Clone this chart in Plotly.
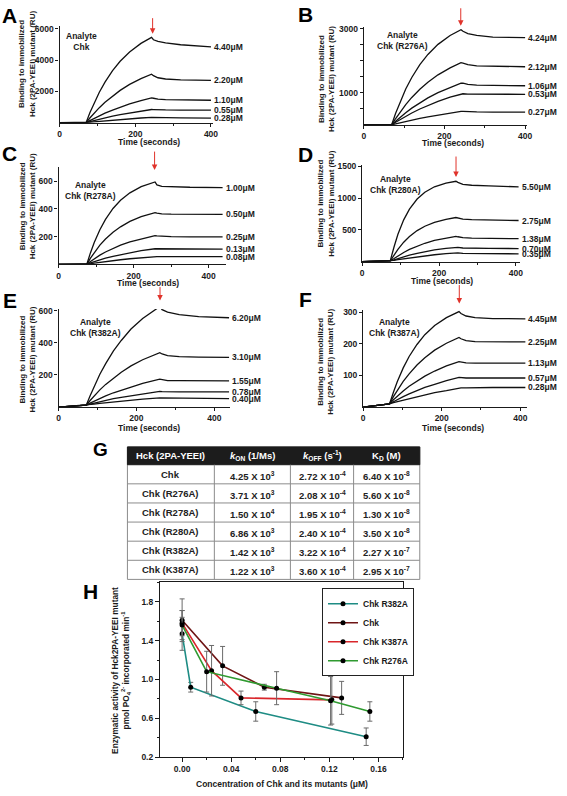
import plotly.graph_objects as go

W, H = 567, 796
FONT = "Liberation Sans, Arial, Helvetica, sans-serif"
INK = "#1a1a1a"

# ---------------- SPR sensorgram data (panels A-F) ----------------
T_A = [0, 70, 80, 90, 105, 120, 140, 160, 185, 215, 243, 248, 260, 280, 320, 400]
A_LABELS = ["4.40μM", "2.20μM", "1.10μM", "0.55μM", "0.28μM"]
A_440 = [0, 0, 627, 1200, 1945, 2590, 3325, 3925, 4520, 5065, 5450, 5300, 5200, 5100, 4980, 4840]
A_220 = [0, 0, 298, 577, 958, 1302, 1708, 2062, 2443, 2818, 3100, 3000, 2870, 2790, 2740, 2700]
A_110 = [0, 0, 133, 259, 439, 604, 806, 988, 1193, 1408, 1580, 1560, 1500, 1470, 1450, 1430]
A_055 = [0, 0, 66, 129, 219, 305, 410, 508, 619, 739, 840, 835, 820, 810, 805, 800]
A_028 = [0, 0, 25, 49, 84, 117, 159, 199, 245, 296, 340, 335, 320, 310, 300, 290]

T_B = [0, 69, 79, 89, 104, 119, 139, 159, 184, 214, 241, 246, 258, 280, 320, 400]
B_LABELS = ["4.24μM", "2.12μM", "1.06μM", "0.53μM", "0.27μM"]
B_424 = [0, 0, 365, 689, 1120, 1479, 1880, 2198, 2513, 2789, 2970, 2920, 2850, 2790, 2740, 2720]
B_212 = [0, 0, 200, 384, 634, 857, 1114, 1333, 1562, 1781, 1940, 1930, 1880, 1840, 1825, 1815]
B_106 = [0, 0, 117, 228, 382, 523, 693, 842, 1005, 1173, 1300, 1300, 1265, 1240, 1230, 1222]
B_053 = [0, 0, 82, 160, 271, 372, 497, 609, 736, 869, 975, 972, 962, 958, 956, 955]
B_027 = [0, 0, 33, 65, 110, 152, 205, 254, 310, 370, 420, 420, 412, 405, 402, 400]

T_C = [0, 75, 85, 95, 110, 125, 145, 165, 190, 220, 257, 262, 275, 300, 350, 437]
C_LABELS = ["1.00μM", "0.50μM", "0.25μM", "0.13μM", "0.08μM"]
C_100 = [0, 0, 84, 157, 249, 324, 402, 461, 515, 559, 593, 572, 562, 558, 555, 553]
C_050 = [0, 0, 45, 85, 138, 182, 231, 270, 309, 343, 372, 368, 364, 362, 361, 360]
C_025 = [0, 0, 21, 40, 66, 89, 115, 138, 162, 184, 206, 205, 202, 200, 198, 197]
C_013 = [0, 0, 10, 19, 32, 44, 58, 70, 84, 98, 112, 112, 111, 111, 111, 110]
C_008 = [0, 0, 4, 8, 14, 20, 26, 33, 40, 48, 56, 56, 56, 56, 55, 55]

T_D = [0, 73, 83, 93, 108, 123, 143, 163, 188, 218, 244, 249, 262, 285, 330, 407]
D_LABELS = ["5.50μM", "2.75μM", "1.38μM", "0.70μM", "0.35μM"]
D_550 = [0, 15, 236, 431, 657, 826, 984, 1091, 1176, 1234, 1263, 1245, 1215, 1200, 1190, 1175]
D_275 = [0, 15, 105, 195, 307, 397, 489, 557, 618, 666, 694, 688, 670, 660, 653, 647]
D_138 = [0, 15, 50, 90, 146, 193, 246, 290, 334, 373, 399, 392, 378, 370, 366, 362]
D_070 = [0, 15, 30, 50, 79, 104, 133, 158, 185, 210, 228, 225, 216, 212, 210, 207]
D_035 = [0, 15, 22, 32, 46, 60, 78, 93, 110, 127, 140, 138, 132, 129, 127, 124]

T_E = [0, 71, 81, 91, 106, 121, 141, 161, 186, 216, 260, 266, 280, 310, 360, 438]
E_LABELS = ["6.20μM", "3.10μM", "1.55μM", "0.78μM", "0.40μM"]
E_620 = [0, 12, 70, 128, 204, 270, 349, 414, 485, 550, 625, 605, 590, 575, 562, 555]
E_310 = [0, 12, 41, 69, 107, 141, 181, 217, 256, 294, 338, 330, 320, 314, 311, 309]
E_155 = [0, 12, 25, 37, 55, 70, 89, 106, 126, 148, 174, 170, 164, 164, 163, 163]
E_078 = [0, 12, 19, 25, 34, 42, 52, 61, 71, 83, 98, 96, 94, 94, 94, 94]
E_040 = [0, 12, 15, 19, 23, 27, 33, 38, 43, 49, 57, 57, 55, 54, 53, 53]

T_F = [0, 67, 77, 87, 102, 117, 137, 157, 182, 212, 244, 249, 262, 285, 330, 413]
F_LABELS = ["4.45μM", "2.25μM", "1.13μM", "0.57μM", "0.28μM"]
F_445 = [0, 10, 47, 81, 124, 160, 198, 229, 258, 283, 302, 296, 288, 283, 280, 279]
F_225 = [0, 10, 33, 53, 81, 105, 133, 156, 180, 202, 220, 216, 210, 207, 206, 206]
F_113 = [0, 10, 23, 35, 51, 66, 83, 98, 114, 130, 144, 143, 140, 139, 139, 139]
F_057 = [0, 10, 17, 24, 33, 42, 52, 62, 72, 84, 94, 93, 92, 92, 92, 92]
F_028 = [0, 10, 14, 17, 23, 27, 34, 39, 46, 52, 60, 61, 61, 62, 62, 62]

ANALYTES = ["Chk", "Chk (R276A)", "Chk (R278A)", "Chk (R280A)", "Chk (R382A)", "Chk (R387A)"]
PANEL_LETTERS = ["A", "B", "C", "D", "E", "F"]

X_TICKS = [0, 200, 400]
X_MINOR = [100, 300]
A_YTICKS = [2000, 4000, 6000]
B_YTICKS = [500, 1000, 1500, 2000, 2500, 3000]
B_YTEXT = ["", "1000", "", "", "", "3000"]
C_YTICKS = [200, 400, 600]
D_YTICKS = [500, 1000, 1500]
E_YTICKS = [200, 400, 600]
F_YTICKS = [100, 200, 300]

# ---------------- Table G ----------------
TABLE_HEADER = ["Hck (2PA-YEEI)", "<i>k</i><sub>ON</sub> (1/Ms)",
                "<i>k</i><sub>OFF</sub> (s<sup>-1</sup>)", "K<sub>D</sub> (M)"]
TABLE_PROTEIN = ["Chk", "Chk (R276A)", "Chk (R278A)", "Chk (R280A)", "Chk (R382A)", "Chk (K387A)"]
TABLE_KON = ["4.25 X 10<sup>3</sup>", "3.71 X 10<sup>3</sup>", "1.50 X 10<sup>4</sup>",
             "6.86 X 10<sup>3</sup>", "1.42 X 10<sup>3</sup>", "1.22 X 10<sup>3</sup>"]
TABLE_KOFF = ["2.72 X 10<sup>-4</sup>", "2.08 X 10<sup>-4</sup>", "1.95 X 10<sup>-4</sup>",
              "2.40 X 10<sup>-4</sup>", "3.22 X 10<sup>-4</sup>", "3.60 X 10<sup>-4</sup>"]
TABLE_KD = ["6.40 X 10<sup>-8</sup>", "5.60 X 10<sup>-8</sup>", "1.30 X 10<sup>-8</sup>",
            "3.50 X 10<sup>-8</sup>", "2.27 X 10<sup>-7</sup>", "2.95 X 10<sup>-7</sup>"]

# ---------------- Panel H ----------------
H_NAMES = ["Chk R382A", "Chk", "Chk K387A", "Chk R276A"]
H_R382A_X = [0.0, 0.007, 0.060, 0.150]
H_R382A_Y = [1.47, 0.92, 0.67, 0.41]
H_R382A_E = [0.17, 0.05, 0.10, 0.09]
H_CHK_X = [0.0, 0.033, 0.067, 0.130]
H_CHK_Y = [1.61, 1.14, 0.92, 0.81]
H_CHK_E = [0.22, 0.20, 0.03, 0.17]
H_K387A_X = [0.0, 0.024, 0.048, 0.122]
H_K387A_Y = [1.58, 1.09, 0.81, 0.79]
H_K387A_E = [0.13, 0.26, 0.07, 0.25]
H_R276A_X = [0.0, 0.020, 0.077, 0.121, 0.153]
H_R276A_Y = [1.56, 1.08, 0.91, 0.78, 0.67]
H_R276A_E = [0.15, 0.21, 0.17, 0.25, 0.10]
H_COLORS = ["#1e8c84", "#6e1414", "#d9262b", "#2f9a30"]

# ======================================================================
def px(x):
    return x / W


def py(y):
    return 1 - y / H


def tf(size=8.5, color=INK, weight="bold"):
    return dict(family=FONT, size=size, color=color, weight=weight)


fig = go.Figure()
layout = dict(width=W, height=H, margin=dict(l=0, r=0, t=0, b=0), autosize=False,
              paper_bgcolor="white", plot_bgcolor="white", showlegend=True)
annotations = []
shapes = []

PANELS = [
    dict(t=T_A, curves=[A_440, A_220, A_110, A_055, A_028], labels=A_LABELS,
         xd=(58.3, 213.5), yd=(120.0, 22.7), xr=[0, 405], yr=[0, 6150], yt=A_YTICKS, ytt=None,
         an=(80, 38), arrow=(152.5, 13, 30), tt=(149, 140), yti=(25, 61), let=(8, 12)),
    dict(t=T_B, curves=[B_424, B_212, B_106, B_053, B_027], labels=B_LABELS,
         xd=(366.3, 531.7), yd=(122.3, 23.4), xr=[0, 405], yr=[0, 3050], yt=B_YTICKS, ytt=B_YTEXT,
         an=(405, 37), arrow=(464.5, 3, 22), tt=(457, 141), yti=(328, 76), let=(307, 11)),
    dict(t=T_C, curves=[C_100, C_050, C_025, C_013, C_008], labels=C_LABELS,
         xd=(57.3, 226.4), yd=(263.3, 165.0), xr=[0, 445], yr=[0, 700], yt=C_YTICKS, ytt=None,
         an=(90, 189), arrow=(154.5, 148, 168), tt=(148, 282), yti=(26, 205), let=(8, 151)),
    dict(t=T_D, curves=[D_550, D_275, D_138, D_070, D_035], labels=D_LABELS,
         xd=(364.7, 524.2), yd=(260.7, 162.7), xr=[0, 410], yr=[0, 1520], yt=D_YTICKS, ytt=None,
         an=(398, 183), arrow=(459.7, 153, 175), tt=(445, 280), yti=(328, 202), let=(307, 152)),
    dict(t=T_E, curves=[E_620, E_310, E_155, E_078, E_040], labels=E_LABELS,
         xd=(57.3, 230.7), yd=(407.7, 308.4), xr=[0, 440], yr=[0, 610], yt=E_YTICKS, ytt=None,
         an=(95, 327), arrow=(160, 285, 300), tt=(149, 429), yti=(26, 360), let=(8, 300)),
    dict(t=T_F, curves=[F_445, F_225, F_113, F_057, F_028], labels=F_LABELS,
         xd=(365.7, 531.5), yd=(407.7, 309.5), xr=[0, 417], yr=[0, 307], yt=F_YTICKS, ytt=None,
         an=(397, 327), arrow=(463, 283, 303), tt=(457, 429), yti=(328, 362), let=(307, 299)),
]

for i, p in enumerate(PANELS):
    n = i + 1
    xk = "xaxis" if n == 1 else f"xaxis{n}"
    yk = "yaxis" if n == 1 else f"yaxis{n}"
    xr_ = "x" if n == 1 else f"x{n}"
    yr_ = "y" if n == 1 else f"y{n}"
    layout[xk] = dict(domain=[px(p["xd"][0]), px(p["xd"][1])], range=p["xr"], anchor=yr_,
                      showline=True, linecolor=INK, linewidth=1.3, ticks="outside", ticklen=3,
                      tickwidth=1, tickcolor=INK, tickmode="array", tickvals=X_TICKS,
                      tickfont=tf(8.5), showgrid=False, zeroline=False, fixedrange=True,
                      minor=dict(tickmode="array", tickvals=X_MINOR, ticks="outside",
                                 ticklen=2, tickcolor=INK, tickwidth=1, showgrid=False))
    ya = dict(domain=[py(p["yd"][0]), py(p["yd"][1])], range=p["yr"], anchor=xr_,
              showline=True, linecolor=INK, linewidth=1.3, ticks="outside", ticklen=3,
              tickwidth=1, tickcolor=INK, tickmode="array", tickvals=p["yt"],
              tickfont=tf(8.5), showgrid=False, zeroline=False, fixedrange=True)
    if p["ytt"] is not None:
        ya["ticktext"] = p["ytt"]
    layout[yk] = ya

    for vals, lab in zip(p["curves"], p["labels"]):
        fig.add_trace(go.Scatter(x=p["t"], y=vals, mode="lines", xaxis=xr_, yaxis=yr_,
                                 line=dict(color="#111111", width=1.3), showlegend=False,
                                 hoverinfo="skip"))
        annotations.append(dict(x=p["t"][-1], y=vals[-1], xref=xr_, yref=yr_, text=lab,
                                showarrow=False, xanchor="left", yanchor="middle", xshift=1,
                                font=tf(8.5)))
    annotations.append(dict(x=px(p["an"][0]), y=py(p["an"][1]), xref="paper", yref="paper",
                            text=f"Analyte<br>{ANALYTES[i]}", showarrow=False,
                            xanchor="center", yanchor="middle", font=tf(8.5)))
    ax_, tail, tip = p["arrow"]
    annotations.append(dict(x=px(ax_), y=py(tip), xref="paper", yref="paper", text="",
                            showarrow=True, ax=0, ay=-(tip - tail), arrowcolor="#e0332b",
                            arrowwidth=1, arrowhead=2, arrowsize=1.1, standoff=0))
    annotations.append(dict(x=px(p["tt"][0]), y=py(p["tt"][1]), xref="paper", yref="paper",
                            text="Time (seconds)", showarrow=False, xanchor="center",
                            yanchor="middle", font=tf(8.5)))
    annotations.append(dict(x=px(p["yti"][0]), y=py(p["yti"][1]), xref="paper", yref="paper",
                            text="Binding to immobilized<br>Hck (2PA-YEEI) mutant (RU)",
                            showarrow=False, textangle=-90, xanchor="center", yanchor="middle",
                            font=tf(8)))
    annotations.append(dict(x=px(p["let"][0]), y=py(p["let"][1]), xref="paper", yref="paper",
                            text=PANEL_LETTERS[i], showarrow=False, xanchor="center",
                            yanchor="middle", font=tf(21, "#000")))

# ---------------- Table G (drawn as shapes + text) ----------------
COL_EDGES = [127, 215, 292, 356, 423]
TOP, HEAD_BOTTOM, ROW_H = 448, 466, 19.33
n_rows = len(TABLE_PROTEIN)
bottom = HEAD_BOTTOM + ROW_H * n_rows
GRID = "#8c8c8c"
shapes.append(dict(type="rect", xref="paper", yref="paper", x0=px(COL_EDGES[0]), x1=px(COL_EDGES[-1]),
                   y0=py(bottom), y1=py(TOP), line=dict(color=GRID, width=1), fillcolor="white",
                   layer="below"))
shapes.append(dict(type="rect", xref="paper", yref="paper", x0=px(COL_EDGES[0]), x1=px(COL_EDGES[-1]),
                   y0=py(HEAD_BOTTOM), y1=py(TOP), line=dict(color="#1c1c1c", width=1),
                   fillcolor="#1c1c1c"))
for r in range(1, n_rows):
    yy = HEAD_BOTTOM + ROW_H * r
    shapes.append(dict(type="line", xref="paper", yref="paper", x0=px(COL_EDGES[0]),
                       x1=px(COL_EDGES[-1]), y0=py(yy), y1=py(yy), line=dict(color=GRID, width=1)))
for xe in COL_EDGES[1:-1]:
    shapes.append(dict(type="line", xref="paper", yref="paper", x0=px(xe), x1=px(xe),
                       y0=py(bottom), y1=py(HEAD_BOTTOM), line=dict(color=GRID, width=1)))
col_centers = [(COL_EDGES[k] + COL_EDGES[k + 1]) / 2 for k in range(4)]
for k, htxt in enumerate(TABLE_HEADER):
    annotations.append(dict(x=px(col_centers[k]), y=py((TOP + HEAD_BOTTOM) / 2), xref="paper",
                            yref="paper", text=htxt, showarrow=False, xanchor="center",
                            yanchor="middle", font=tf(9.5, "white")))
for k, col in enumerate([TABLE_PROTEIN, TABLE_KON, TABLE_KOFF, TABLE_KD]):
    for r, txt in enumerate(col):
        yc = HEAD_BOTTOM + ROW_H * (r + 0.5) + (1.5 if k > 0 else 0)
        annotations.append(dict(x=px(col_centers[k]), y=py(yc), xref="paper", yref="paper",
                                text=txt, showarrow=False, xanchor="center", yanchor="middle",
                                font=tf(9.5, "#222")))
annotations.append(dict(x=px(100), y=py(451), xref="paper", yref="paper", text="G",
                        showarrow=False, xanchor="center", yanchor="middle", font=tf(19, "#000")))

# ---------------- Panel H ----------------
layout["xaxis7"] = dict(domain=[px(160), px(406)], range=[-0.018, 0.18], anchor="y7",
                        showline=True, mirror=True, linecolor=INK, linewidth=1.2,
                        ticks="outside", ticklen=4, tickwidth=1, tickcolor=INK,
                        tick0=0, dtick=0.04, tickformat=".2f", tickfont=tf(8.5),
                        showgrid=False, zeroline=False, fixedrange=True,
                        minor=dict(tick0=0, dtick=0.02, ticks="outside", ticklen=2,
                                   tickcolor=INK, showgrid=False))
layout["yaxis7"] = dict(domain=[py(761.7), py(585)], range=[0.2, 2.0], anchor="x7",
                        showline=True, mirror=True, linecolor=INK, linewidth=1.2,
                        ticks="outside", ticklen=4, tickwidth=1, tickcolor=INK,
                        tick0=0.2, dtick=0.4, tickformat=".1f", tickfont=tf(8.5),
                        showgrid=False, zeroline=False, fixedrange=True,
                        minor=dict(tick0=0.2, dtick=0.2, ticks="outside", ticklen=2,
                                   tickcolor=INK, showgrid=False))

H_SERIES = [(H_R382A_X, H_R382A_Y, H_R382A_E), (H_CHK_X, H_CHK_Y, H_CHK_E),
            (H_K387A_X, H_K387A_Y, H_K387A_E), (H_R276A_X, H_R276A_Y, H_R276A_E)]
for (xs, ys, es), name, col in zip(H_SERIES, H_NAMES, H_COLORS):
    fig.add_trace(go.Scatter(x=xs, y=ys, name=name, mode="lines+markers", xaxis="x7", yaxis="y7",
                             line=dict(color=col, width=1.6),
                             marker=dict(color="#000", size=5),
                             error_y=dict(type="data", array=es, visible=True, color="#6a6a6a",
                                          thickness=1, width=2.5)))

annotations.append(dict(x=px(90), y=py(594), xref="paper", yref="paper", text="H",
                        showarrow=False, xanchor="center", yanchor="middle", font=tf(21, "#000")))
annotations.append(dict(x=px(121), y=py(674), xref="paper", yref="paper",
                        text="Enzymatic activity of Hck2PA-YEEI mutant<br>"
                             "pmol PO<sub>4</sub><sup>2-</sup> incorporated min<sup>-1</sup>",
                        showarrow=False, textangle=-90, xanchor="center", yanchor="middle",
                        font=tf(8.3)))
annotations.append(dict(x=px(283), y=py(789), xref="paper", yref="paper",
                        text="Concentration of Chk and its mutants (μM)", showarrow=False,
                        xanchor="center", yanchor="middle", font=tf(8.5)))

layout["legend"] = dict(x=px(324), y=py(591), xanchor="left", yanchor="top",
                        bgcolor="white", bordercolor="#222", borderwidth=1,
                        font=tf(8.5), itemwidth=30, tracegroupgap=0)
layout["annotations"] = annotations
layout["shapes"] = shapes
fig.update_layout(**layout)

fig.write_html("out.html", config={"displayModeBar": False},
               post_script="document.body.style.margin='0';document.body.style.overflow='hidden';")
